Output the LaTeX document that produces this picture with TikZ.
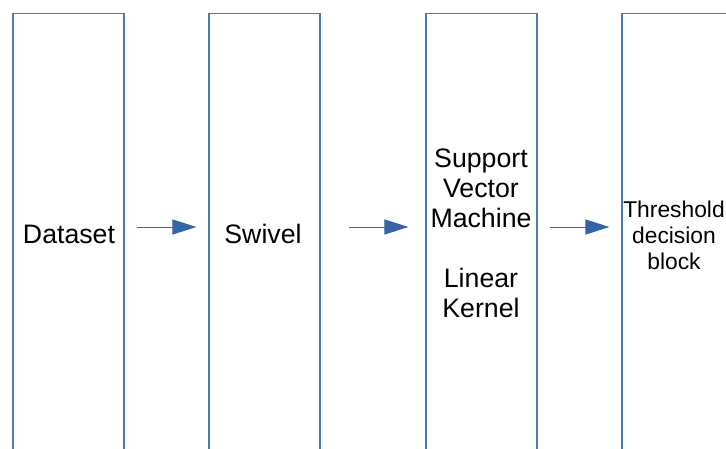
\documentclass[tikz,border=0pt]{standalone}
\usepackage{fontspec}
\setmainfont{Liberation Sans}
\usetikzlibrary{arrows.meta}
\definecolor{lineblue}{HTML}{3465A4}
\definecolor{boxblue}{HTML}{4A78B8}
\tikzset{
  stage/.style={draw=boxblue, line width=1.1pt, minimum width=111pt, minimum height=480pt, anchor=north, inner sep=0pt},
  lbl/.style={align=center, inner sep=0pt, font=\fontsize{26.7}{30}\selectfont},
  small/.style={align=center, inner sep=0pt, font=\fontsize{22.8}{26}\selectfont},
  flow/.style={draw=lineblue, line width=1pt, -{Triangle[length=24pt,width=15pt]}}
}
\begin{document}
\begin{tikzpicture}[x=1pt,y=-1pt]
  \useasboundingbox (0,0) rectangle (726,448);
  \clip (0,0) rectangle (726,448);
  % the four processing stages
  \node[stage] (b1) at (68.5,13) {};
  \node[stage] (b2) at (264.5,13) {};
  \node[stage] (b3) at (481.5,13) {};
  \node[stage] (b4) at (677.5,13) {};
  % stage labels
  \node[lbl] (t1) at (69,234) {Dataset};
  \node[lbl] (t2) at (263,234) {Swivel};
  \node[lbl] (t3) at (481,233) {Support\\Vector\\Machine\\[30pt]Linear\\Kernel};
  \node[small] (t4) at (674,235) {Threshold\\decision\\block};
  % data flow between stages
  \coordinate (mid) at (0,227);
  \draw[flow] ([xshift=12pt]b1.east |- mid) -- ([xshift=-12pt]b2.west |- mid);
  \draw[flow] ([xshift=28pt]b2.east |- mid) -- ([xshift=-17pt]b3.west |- mid);
  \draw[flow] ([xshift=12pt]b3.east |- mid) -- ([xshift=-12pt]b4.west |- mid);
\end{tikzpicture}
\end{document}
